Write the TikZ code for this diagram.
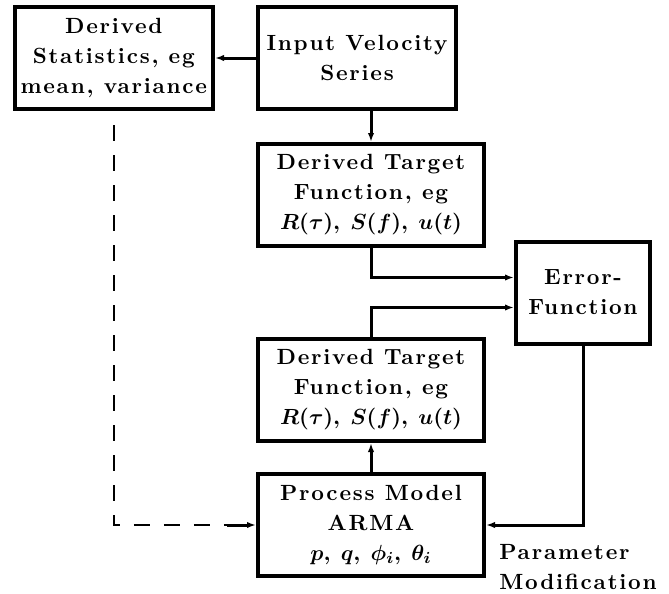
\documentclass[tikz,border=0pt]{standalone}
\usepackage{amsmath,amssymb}
\usepackage{fontspec}
\setmainfont{Latin Modern Roman}[LetterSpace=8]
\usepackage{tikz}
\usetikzlibrary{arrows.meta,positioning}

\begin{document}
\begin{tikzpicture}[x=0.5pt,y=-0.5pt,
    blk/.style={draw,line width=2pt,minimum height=51pt,inner sep=3pt,
                align=center,font=\fontsize{11}{15}\selectfont\bfseries},
    arr/.style={-{Latex[length=4.5pt,width=3.2pt]},line width=1.5pt},
    dsh/.style={line width=0.9pt,dash pattern=on 8pt off 7pt,dash phase=8pt},
  ]
    \useasboundingbox (0,0) rectangle (669,594);
    \node[blk,minimum width=99pt](inp) at (357,58){%
      Input Velocity\\Series};
    \node[blk,minimum width=98.5pt,left=20.5pt of inp](stat){%
      Derived\\Statistics, eg\\mean, variance};
    \node[blk,minimum width=113pt,
      below=15.5pt of inp.south west,anchor=north west](tf1){%
      Derived Target\\Function, eg\\
      $\boldsymbol{R(\tau)}$, $\boldsymbol{S(f)}$, $\boldsymbol{u(t)}$};
    \node[blk,minimum width=67pt](err) at (583,292.5){%
      Error-\\Function};
    \node[blk,minimum width=113pt,
      below=44.5pt of tf1.south west,anchor=north west](tf2){%
      Derived Target\\Function, eg\\
      $\boldsymbol{R(\tau)}$, $\boldsymbol{S(f)}$, $\boldsymbol{u(t)}$};
    \node[blk,minimum width=113pt,below=14.5pt of tf2](pm){%
      Process Model\\ARMA\\
      $\boldsymbol{p}$, $\boldsymbol{q}$, $\boldsymbol{\phi_i}$,
      $\boldsymbol{\theta_i}$};
    \node[anchor=north west,align=left,inner sep=0pt,
      font=\fontsize{11}{15}\selectfont\bfseries](lbl) at (499,543.5){%
      Parameter\\Modification};
    \coordinate[xshift=-14.5pt] (dm) at (pm.west);
    % connectors
    \draw[arr](inp.west|-stat.east)--(stat.east);
    \draw[arr](inp.south-|tf1.north)--(tf1.north);
    \draw[arr](tf1.south)|-([yshift=7.5pt]err.west);
    \draw[arr](tf2.north)|-([yshift=-7.5pt]err.west);
    \draw[arr](pm.north)--(tf2.south);
    \draw[arr](err.south)|-(pm.east);
    \draw[dsh](stat.south)|-(dm);
    \draw[arr](dm)--(pm.west);
  \end{tikzpicture}
\end{document}
